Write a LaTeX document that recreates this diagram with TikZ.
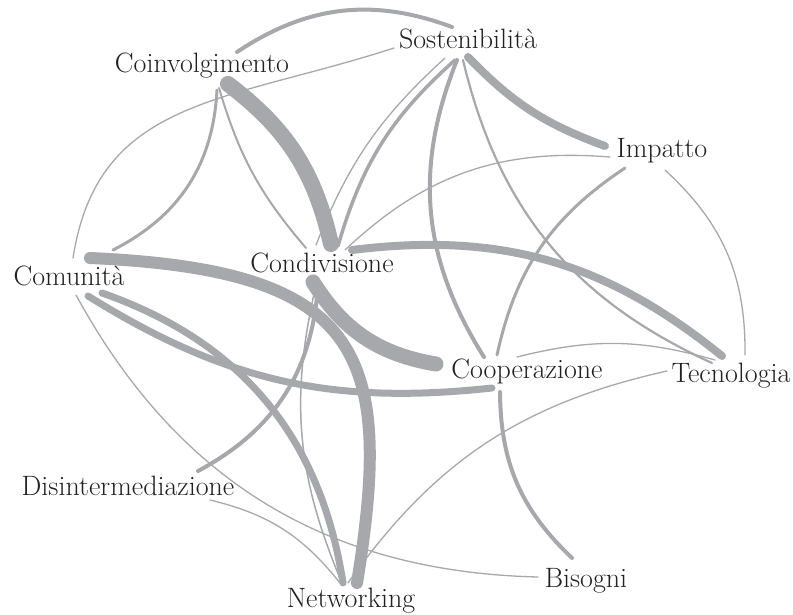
\documentclass[tikz,border=0pt]{standalone}
\definecolor{linkgray}{RGB}{167,168,172}
\definecolor{labelink}{RGB}{35,31,32}
\begin{document}
\begin{tikzpicture}[x=1pt, y=-1pt,
    term/.style={anchor=base, inner sep=0pt, text=labelink, font=\fontsize{28}{32}\selectfont},
    tie/.style={draw=linkgray, line width=#1, line cap=round},
    tie/.default=1.3]
    \useasboundingbox (0,0) rectangle (793,614);
    % the ten keywords
    \node[term] (coin) at (202,72) {Coinvolgimento};
    \node[term] (sost) at (468,48) {Sostenibilità};
    \node[term] (imp) at (662,157) {Impatto};
    \node[term] (cond) at (322,272) {Condivisione};
    \node[term] (com) at (69,285) {Comunità};
    \node[term] (coop) at (527,378) {Cooperazione};
    \node[term] (tec) at (731,382) {Tecnologia};
    \node[term] (dis) at (128,495) {Disintermediazione};
    \node[term] (net) at (351,607) {Networking};
    \node[term] (bis) at (586,587) {Bisogni};
    % links, thicker for stronger ties
    \draw[tie=4] ([shift={(35,-20)}]coin.base) to[bend left=27] ([shift={(-16,-21)}]sost.base);
    \draw[tie=16] ([shift={(26,12)}]coin.base) to[bend left=20] ([shift={(9,-28)}]cond.base);
    \draw[tie=2] ([shift={(17,16)}]coin.base) to[bend right=12] ([shift={(-16,-24)}]cond.base);
    \draw[tie=3] ([shift={(15,18)}]coin.base) to[bend left=30] ([shift={(44,-35)}]com.base);
    \draw[tie] ([shift={(4,-27)}]com.base) .. controls +(25,-160) and +(-170,55) .. ([shift={(-74,0)}]sost.base);
    \draw[tie] ([shift={(7,10)}]com.base) to[bend right=30] ([shift={(-48,-10)}]bis.base);
    \draw[tie=7] ([shift={(19,11)}]com.base) to[bend right=19] ([shift={(-35,10)}]coop.base);
    \draw[tie=7] ([shift={(33,8)}]com.base) to[bend left=31] ([shift={(-8,-24)}]net.base);
    \draw[tie=12] ([shift={(21,-27)}]com.base) .. controls +(270,12) and +(38,-233) .. ([shift={(6,-24)}]net.base);
    \draw[tie=15] ([shift={(-9,10)}]cond.base) to[bend right=24] ([shift={(-91,-14)}]coop.base);
    \draw[tie=8] ([shift={(30,-22)}]cond.base) to[bend left=23] ([shift={(-9,-26)}]tec.base);
    \draw[tie=3.5] ([shift={(16,-26)}]cond.base) to[bend left=16] ([shift={(-13,12)}]sost.base);
    \draw[tie] ([shift={(-6,-27)}]cond.base) to[bend left=13] ([shift={(-23,10)}]sost.base);
    \draw[tie] ([shift={(23,-22)}]cond.base) to[bend left=24] ([shift={(-52,0)}]imp.base);
    \draw[tie=8] ([shift={(0,9)}]sost.base) to[bend right=13] ([shift={(-57,-11)}]imp.base);
    \draw[tie=4] ([shift={(-11,12)}]sost.base) to[bend right=27] ([shift={(-43,-21)}]coop.base);
    \draw[tie=2.2] ([shift={(-5,12)}]sost.base) to[bend right=26] ([shift={(-19,-19)}]tec.base);
    \draw[tie=3] ([shift={(-37,11)}]imp.base) to[bend right=22] ([shift={(-30,-23)}]coop.base);
    \draw[tie] ([shift={(3,13)}]imp.base) to[bend left=24] ([shift={(14,-27)}]tec.base);
    \draw[tie] ([shift={(-10,-21)}]coop.base) to[bend left=15] ([shift={(-16,-22)}]tec.base);
    \draw[tie] ([shift={(-64,-11)}]tec.base) to[bend right=21] ([shift={(-3,-24)}]net.base);
    \draw[tie=4] ([shift={(-27,14)}]coop.base) to[bend right=23] ([shift={(-14,-29)}]bis.base);
    \draw[tie=4] ([shift={(70,-24)}]dis.base) to[bend right=29] ([shift={(-4,13)}]cond.base);
    \draw[tie] ([shift={(82,5)}]dis.base) to[bend left=19] ([shift={(-11,-24)}]net.base);
    \draw[tie=1.5] ([shift={(-6,13)}]cond.base) to[bend right=18] ([shift={(-9,-24)}]net.base);
\end{tikzpicture}
\end{document}
